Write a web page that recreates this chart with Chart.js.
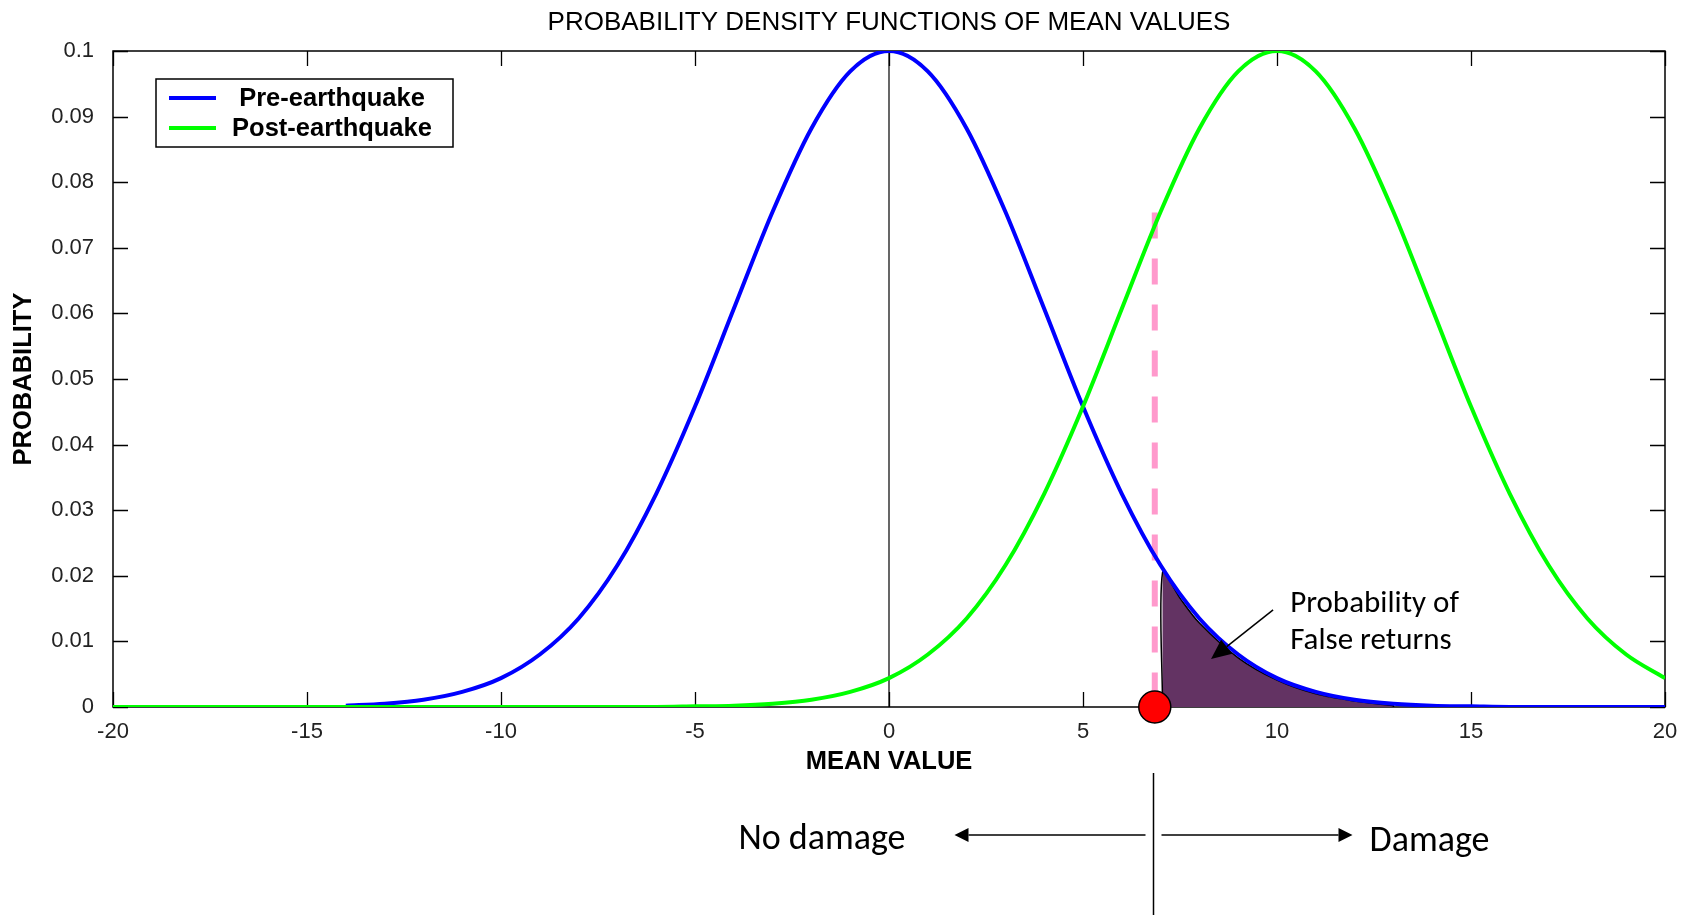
<!DOCTYPE html>
<html>
<head>
<meta charset="utf-8">
<script src="https://cdn.jsdelivr.net/npm/chart.js@4.4.1/dist/chart.umd.min.js"></script>
<style>
  html, body { margin: 0; padding: 0; background: #fff; }
  #wrap { width: 1688px; height: 922px; position: relative; }
</style>
</head>
<body>
<div id="wrap"><canvas id="pdf-chart"></canvas></div>
<script>
// values, one per unit of MEAN VALUE
const meanValues = [-20, -19, -18, -17, -16, -15, -14, -13, -12, -11, -10, -9, -8, -7, -6, -5, -4, -3, -2, -1,
    0, 1, 2, 3, 4, 5, 6, 7, 8, 9, 10, 11, 12, 13, 14, 15, 16, 17, 18, 19, 20];

const preEarthquake = [null, null, null, null, null, null, 0.0002, 0.0005, 0.0011, 0.0023, 0.0044, 0.0080, 0.0135, 0.0216, 0.0325, 0.0458, 0.0607, 0.0755, 0.0882, 0.0969,
    0.1, 0.0969, 0.0882, 0.0755, 0.0607, 0.0458, 0.0325, 0.0216, 0.0135, 0.0080, 0.0044, 0.0023, 0.0011, 0.0005, 0.0002, 0.0001, 0, 0, 0, 0, 0];

const postEarthquake = [0, 0, 0, 0, 0, 0, 0, 0, 0, 0, 0, 0, 0, 0, 0, 0.0001, 0.0002, 0.0005, 0.0011, 0.0023,
    0.0044, 0.0080, 0.0135, 0.0216, 0.0325, 0.0458, 0.0607, 0.0755, 0.0882, 0.0969, 0.1, 0.0969, 0.0882, 0.0755, 0.0607, 0.0458, 0.0325, 0.0216, 0.0135, 0.0080, 0.0044];

// shaded "false returns" patch
const falseReturnX = [7.05, 7.05, 7.5, 8, 9, 10, 11, 12, 13, 13];
const falseReturnY = [0, 0.0205, 0.0166, 0.0128, 0.0075, 0.0041, 0.0020, 0.0009, 0.0002, 0];

// damage threshold
const thresholdX = 6.85;
const thresholdTop = 0.0754;

const xTickValues = [-20, -15, -10, -5, 0, 5, 10, 15, 20];
const yTickValues = [0, 0.01, 0.02, 0.03, 0.04, 0.05, 0.06, 0.07, 0.08, 0.09, 0.1];

const AXIS_FONT = "'Liberation Sans', Arial, sans-serif";
const NOTE_FONT = "Carlito, Lato, sans-serif";

const toPoints = (xs, ys) => xs.map((x, i) => ({ x: x, y: ys[i] }));

const pdfData = {
    datasets: [
        {
            label: 'Threshold point',
            data: [{ x: thresholdX, y: 0 }],
            showLine: false,
            pointRadius: 16,
            pointBackgroundColor: '#ff0000',
            pointBorderColor: '#000',
            pointBorderWidth: 1.5,
            clip: false,
            order: 0,
        },
        {
            label: 'Post-earthquake',
            data: toPoints(meanValues, postEarthquake),
            borderColor: '#00ff00',
            backgroundColor: '#00ff00',
            borderWidth: 4,
            pointRadius: 0,
            cubicInterpolationMode: 'monotone',
            order: 1,
        },
        {
            label: 'Pre-earthquake',
            data: toPoints(meanValues, preEarthquake),
            borderColor: '#0000ff',
            backgroundColor: '#0000ff',
            borderWidth: 4,
            pointRadius: 0,
            cubicInterpolationMode: 'monotone',
            order: 2,
        },
        {
            label: 'Threshold',
            data: [{ x: thresholdX, y: thresholdTop }, { x: thresholdX, y: 0 }],
            borderColor: '#ff99cc',
            borderWidth: 6,
            borderDash: [26, 20],
            pointRadius: 0,
            order: 3,
        },
        {
            label: 'False returns',
            data: toPoints(falseReturnX, falseReturnY),
            borderColor: '#000',
            borderWidth: 1.5,
            backgroundColor: 'rgb(99, 51, 99)',
            fill: 'origin',
            tension: 0.3,
            pointRadius: 0,
            order: 4,
        },
        {
            label: 'Zero line',
            data: [{ x: 0, y: 0 }, { x: 0, y: 0.1 }],
            borderColor: '#000',
            borderWidth: 1.2,
            pointRadius: 0,
            order: 5,
        }
    ]
};

// box, inward ticks, title, legend and the notes under the axis
const decorations = {
    id: 'decorations',
    beforeDatasetsDraw(chart) {
        const { ctx, chartArea: a, scales: { x, y } } = chart;
        ctx.save();
        ctx.strokeStyle = '#000';
        ctx.lineWidth = 1.5;
        ctx.strokeRect(a.left, a.top, a.right - a.left, a.bottom - a.top);
        ctx.lineWidth = 1.3;
        ctx.beginPath();
        xTickValues.forEach(v => {
            const px = Math.round(x.getPixelForValue(v)) + 0.5;
            ctx.moveTo(px, a.bottom); ctx.lineTo(px, a.bottom - 15);
            ctx.moveTo(px, a.top); ctx.lineTo(px, a.top + 15);
        });
        yTickValues.forEach(v => {
            const py = Math.round(y.getPixelForValue(v)) + 0.5;
            ctx.moveTo(a.left, py); ctx.lineTo(a.left + 15, py);
            ctx.moveTo(a.right, py); ctx.lineTo(a.right - 15, py);
        });
        ctx.stroke();
        ctx.restore();
    },
    afterDraw(chart) {
        const { ctx, chartArea: a, scales: { x, y } } = chart;
        ctx.save();

        // title
        ctx.fillStyle = '#000';
        ctx.font = '26px ' + AXIS_FONT;
        ctx.textAlign = 'center';
        ctx.textBaseline = 'middle';
        ctx.fillText('PROBABILITY DENSITY FUNCTIONS OF MEAN VALUES', (a.left + a.right) / 2, 23);

        // legend
        const lx = a.left + 43, ly = a.top + 28;
        ctx.fillStyle = '#fff';
        ctx.fillRect(lx, ly, 297, 68);
        ctx.strokeStyle = '#000';
        ctx.lineWidth = 1.5;
        ctx.strokeRect(lx, ly, 297, 68);
        ['Pre-earthquake', 'Post-earthquake'].forEach((name, i) => {
            const ds = chart.data.datasets.find(d => d.label === name);
            const rowY = ly + 19 + i * 30;
            ctx.strokeStyle = ds.borderColor;
            ctx.lineWidth = 4;
            ctx.beginPath();
            ctx.moveTo(lx + 13, rowY);
            ctx.lineTo(lx + 60, rowY);
            ctx.stroke();
            ctx.fillStyle = '#000';
            ctx.font = 'bold 25.5px ' + AXIS_FONT;
            ctx.textAlign = 'center';
            ctx.fillText(name, lx + 176, rowY + 1);
        });

        // "Probability of False returns" note with arrow
        ctx.font = '31px ' + NOTE_FONT;
        ctx.textAlign = 'left';
        ctx.fillStyle = '#000';
        const tx = x.getPixelForValue(10.34);
        ctx.fillText('Probability of', tx, y.getPixelForValue(0.0160) + 2);
        ctx.fillText('False returns', tx, y.getPixelForValue(0.0104) + 2);
        drawArrow(ctx, x.getPixelForValue(9.9), y.getPixelForValue(0.0148),
            x.getPixelForValue(8.3), y.getPixelForValue(0.0073), 1.5, 20, 9);

        // split line and arrows below the axis
        const sx = Math.round(x.getPixelForValue(thresholdX)) - 1.5;
        ctx.strokeStyle = '#000';
        ctx.lineWidth = 1.5;
        ctx.beginPath();
        ctx.moveTo(sx, 773);
        ctx.lineTo(sx, 915);
        ctx.stroke();
        drawArrow(ctx, sx - 8, 835, sx - 199, 835, 1.5, 14, 7);
        drawArrow(ctx, sx + 8, 835, sx + 199, 835, 1.5, 14, 7);
        ctx.font = '36px ' + NOTE_FONT;
        ctx.textAlign = 'right';
        ctx.fillText('No damage', sx - 248, 840);
        ctx.textAlign = 'left';
        ctx.fillText('Damage', sx + 216, 842);

        ctx.restore();
    }
};

function drawArrow(ctx, x0, y0, x1, y1, width, headLen, headHalf) {
    const ang = Math.atan2(y1 - y0, x1 - x0);
    const bx = x1 - headLen * Math.cos(ang), by = y1 - headLen * Math.sin(ang);
    ctx.strokeStyle = '#000';
    ctx.fillStyle = '#000';
    ctx.lineWidth = width;
    ctx.beginPath();
    ctx.moveTo(x0, y0);
    ctx.lineTo(bx, by);
    ctx.stroke();
    ctx.beginPath();
    ctx.moveTo(x1, y1);
    ctx.lineTo(bx + headHalf * Math.sin(ang), by - headHalf * Math.cos(ang));
    ctx.lineTo(bx - headHalf * Math.sin(ang), by + headHalf * Math.cos(ang));
    ctx.closePath();
    ctx.fill();
}

const pdfConfig = {
    type: 'line',
    data: pdfData,
    options: {
        responsive: true,
        maintainAspectRatio: false,
        animation: false,
        devicePixelRatio: 1,
        layout: { padding: { top: 51, right: 23, left: 0, bottom: 0 } },
        plugins: {
            legend: { display: false },
            tooltip: { enabled: false },
        },
        scales: {
            x: {
                type: 'linear',
                min: -20,
                max: 20,
                grid: { display: false },
                border: { display: false },
                ticks: {
                    stepSize: 5,
                    padding: 4,
                    color: '#222',
                    font: { family: AXIS_FONT, size: 22 },
                    maxRotation: 0,
                },
                title: {
                    display: true,
                    text: 'MEAN VALUE',
                    color: '#000',
                    font: { family: AXIS_FONT, size: 25.5, weight: 'bold' },
                    padding: { top: 0, bottom: 145 },
                },
                afterFit(scale) { scale.height = 215; },
            },
            y: {
                type: 'linear',
                min: 0,
                max: 0.1,
                grid: { display: false },
                border: { display: false },
                ticks: {
                    stepSize: 0.01,
                    padding: 11,
                    color: '#222',
                    font: { family: AXIS_FONT, size: 22 },
                    callback: value => String(+value.toFixed(2)),
                },
                title: {
                    display: true,
                    text: 'PROBABILITY',
                    color: '#000',
                    font: { family: AXIS_FONT, size: 25.5, weight: 'bold' },
                    padding: { top: 9, bottom: 0 },
                },
                afterFit(scale) { scale.width = 113; },
            }
        }
    },
    plugins: [decorations]
};

const pdfChart = new Chart(document.getElementById('pdf-chart'), pdfConfig);
</script>
</body>
</html>
